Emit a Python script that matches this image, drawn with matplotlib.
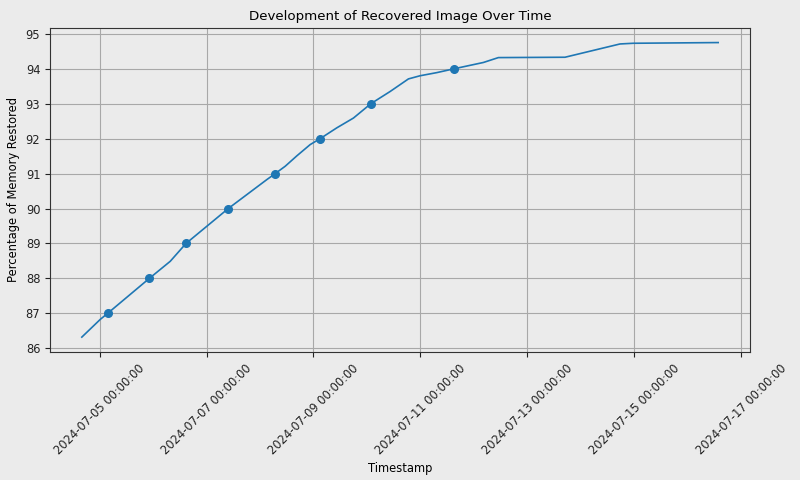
import matplotlib
matplotlib.use("Agg")
import matplotlib.pyplot as plt
import matplotlib.dates as mdates
from matplotlib.ticker import MultipleLocator
import pandas as pd

# recovery progress
timestamps = ["2024-07-04 16:00", "2024-07-05 00:20", "2024-07-05 03:36", "2024-07-05 22:18",
              "2024-07-06 07:42", "2024-07-06 14:46", "2024-07-07 09:45", "2024-07-08 03:06",
              "2024-07-08 06:49", "2024-07-08 11:18", "2024-07-08 16:34", "2024-07-08 22:31",
              "2024-07-09 03:00", "2024-07-09 10:29", "2024-07-09 17:57", "2024-07-10 01:45",
              "2024-07-10 10:25", "2024-07-10 18:38", "2024-07-10 23:51", "2024-07-11 07:22",
              "2024-07-11 15:07", "2024-07-12 04:16", "2024-07-12 11:00", "2024-07-13 16:55",
              "2024-07-14 17:36", "2024-07-14 23:33", "2024-07-16 13:41"]
restored = [86.32, 86.83, 87.0, 88.0, 88.49, 89.0, 90.0, 90.83, 91.0, 91.21, 91.51, 91.83,
            92.0, 92.31, 92.59, 93.0, 93.35, 93.71, 93.80, 93.89, 94.0, 94.18, 94.32, 94.33,
            94.71, 94.73, 94.75]

# whole-percent milestones
milestone_times = ["2024-07-05 03:36", "2024-07-05 22:18", "2024-07-06 14:46", "2024-07-07 09:45",
                   "2024-07-08 06:49", "2024-07-09 03:00", "2024-07-10 01:45", "2024-07-11 15:07"]
milestone_values = [87, 88, 89, 90, 91, 92, 93, 94]

bg = "#ebebeb"
t = pd.to_datetime(timestamps)
tm = pd.to_datetime(milestone_times)

fig = plt.figure(figsize=(8, 4.8), dpi=100, facecolor=bg)
ax = fig.add_axes([0.0625, 0.267, 0.875, 0.675])
ax.set_facecolor(bg)
ax.plot(t, restored, color="#1f77b4", linewidth=1.2)
ax.plot(tm, milestone_values, "o", color="#1f77b4", markersize=5.5)

ax.xaxis.set_major_locator(mdates.DayLocator(bymonthday=[1, 3, 5, 7, 9, 11, 13, 15, 17, 19, 21, 23, 25, 27, 29, 31]))
ax.xaxis.set_major_formatter(mdates.DateFormatter("%Y-%m-%d %H:%M:%S"))
ax.yaxis.set_major_locator(MultipleLocator(1))
for lbl in ax.get_xticklabels():
    lbl.set_rotation(45)
ax.tick_params(labelsize=8.3, colors="#222222")
ax.set_xlabel("Timestamp", fontsize=8.3)
ax.set_ylabel("Percentage of Memory Restored", fontsize=8.3)
ax.set_title("Development of Recovered Image Over Time", fontsize=9.6)
ax.grid(True, color="#a8a8a8", linewidth=0.8)
for s in ax.spines.values():
    s.set_color("#333333")

fig.savefig("out.png", dpi=100, facecolor=bg)
